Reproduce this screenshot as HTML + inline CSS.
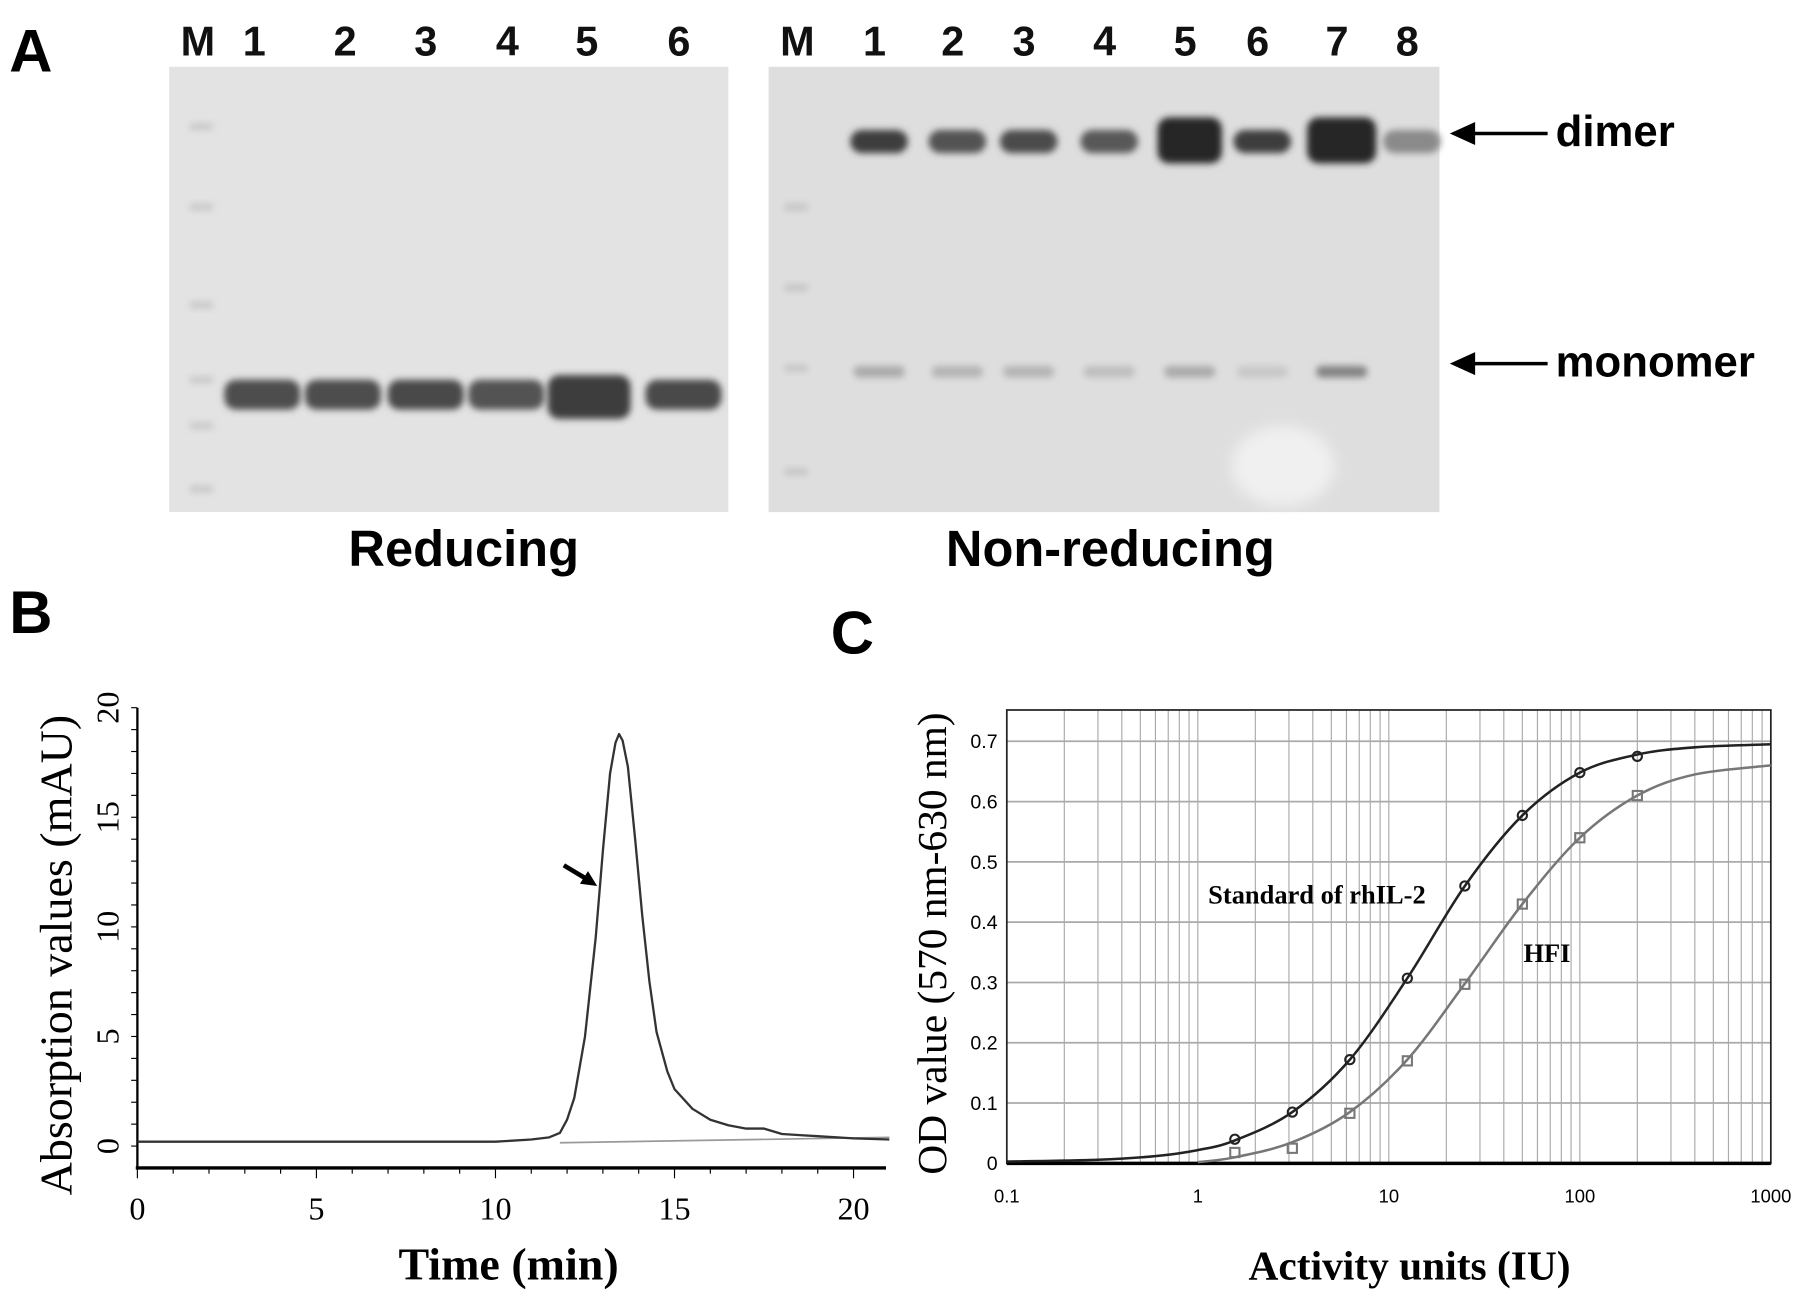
<!DOCTYPE html>
<html><head><meta charset="utf-8">
<style>
html,body{margin:0;padding:0;background:#fff;}
svg{display:block;}
.lab{font-family:"Liberation Sans",sans-serif;font-weight:bold;}
.ser{font-family:"Liberation Serif",serif;}
</style></head>
<body>
<svg id="fig" width="1795" height="1298" viewBox="0 0 1560 1128" xmlns="http://www.w3.org/2000/svg">
<defs>
<filter id="blur" x="-30%" y="-80%" width="160%" height="260%"><feGaussianBlur stdDeviation="3"/></filter>
<filter id="blur2" x="-30%" y="-80%" width="160%" height="260%"><feGaussianBlur stdDeviation="6"/></filter>
</defs>

<!-- Panel A -->
<text x="8" y="62" class="lab" font-size="52">A</text>
<g id="gelA">
<rect x="147" y="58" width="486" height="387" fill="#e3e3e3"/>
</g>
<g id="gelB">
<rect x="668" y="58" width="583" height="387" fill="#dedede"/>
<ellipse cx="1115" cy="405" rx="45" ry="35" fill="#f0f0f0" filter="url(#blur2)"/>
</g>
<g class="lab" font-size="36" text-anchor="middle" fill="#111" font-family="Liberation Sans Narrow, Liberation Sans, sans-serif" id="laneLabels"></g>

<g>
<line x1="1345" y1="116" x2="1272" y2="116" stroke="#000" stroke-width="3"/>
<polygon points="1260,116 1282,106 1282,126" fill="#000"/>
<text x="1352" y="127" class="lab" font-size="38" font-weight="normal">dimer</text>
</g>
<g>
<line x1="1345" y1="316" x2="1272" y2="316" stroke="#000" stroke-width="3"/>
<polygon points="1260,316 1282,306 1282,326" fill="#000"/>
<text x="1352" y="327" class="lab" font-size="38" font-weight="normal">monomer</text>
</g>
<text x="403" y="492" text-anchor="middle" class="lab" font-size="44" font-weight="normal">Reducing</text>
<text x="965" y="492" text-anchor="middle" class="lab" font-size="44" font-weight="normal">Non-reducing</text>

<!-- Panel B -->
<text x="8" y="550" class="lab" font-size="52">B</text>
<g id="chartB"></g>
<text transform="translate(62,830) rotate(-90)" text-anchor="middle" class="ser" font-size="40">Absorption values (mAU)</text>
<text x="442" y="1112" text-anchor="middle" class="ser" font-size="40" font-weight="bold">Time (min)</text>

<!-- Panel C -->
<text x="722" y="568" class="lab" font-size="52">C</text>
<g id="chartC"></g>
<text transform="translate(822,820) rotate(-90)" text-anchor="middle" class="ser" font-size="36">OD value (570 nm-630 nm)</text>
<text x="1225" y="1112" text-anchor="middle" class="ser" font-size="36" font-weight="bold">Activity units (IU)</text>
<text x="1050" y="785" class="ser" font-size="23" font-weight="bold">Standard of rhIL-2</text>
<text x="1324" y="836" class="ser" font-size="23" font-weight="bold">HFI</text>
</svg>

<script>
const NS="http://www.w3.org/2000/svg";
function mk(tag,attrs,parent){const e=document.createElementNS(NS,tag);for(const k in attrs)e.setAttribute(k,attrs[k]);parent.appendChild(e);return e;}

// ---- Gel data ----
const redLanes=["M","1","2","3","4","5","6"];
const redLaneX=[172,221,300,370,441,510,590];
const nonLanes=["M","1","2","3","4","5","6","7","8"];
const nonLaneX=[693,760,828,890,960,1030,1093,1162,1223];
const redIntensity=[0.8,0.8,0.85,0.75,1.0,0.85];
const dimerIntensity=[0.85,0.7,0.75,0.65,1.0,0.85,1.0,0.3];
const monomerIntensity=[0.25,0.2,0.2,0.15,0.25,0.1,0.45,0];

const ll=document.getElementById('laneLabels');
redLanes.forEach((t,i)=>{const e=mk('text',{x:redLaneX[i],y:48},ll);e.textContent=t;

});
nonLanes.forEach((t,i)=>{const e=mk('text',{x:nonLaneX[i],y:48},ll);e.textContent=t;

});

const gA=document.getElementById('gelA');
[110,180,265,330,370,425].forEach(y=>{mk('rect',{x:165,y:y-3,width:20,height:6,fill:'#c8c8c8',filter:'url(#blur)'},gA);});
redIntensity.forEach((v,i)=>{const cx=[228,298,370,440,512,594][i];const w=i==4?72:66;const h=i==4?38:26;
const g=Math.round(60+(1-v)*90);
const r=mk('rect',{x:cx-w/2,y:i==4?326:330,width:w,height:h,rx:10,fill:`rgb(${g},${g},${g})`,filter:'url(#blur)'},gA);

});

const gB=document.getElementById('gelB');
[180,250,320,410].forEach(y=>{mk('rect',{x:682,y:y-3,width:20,height:6,fill:'#c4c4c4',filter:'url(#blur)'},gB);});
dimerIntensity.forEach((v,i)=>{const cx=nonLaneX[i+1]+4;const big=(i==4||i==6);const w=big?(i==6?60:56):50;const h=big?40:20;
const g=Math.round(40+(1-v)*140);
const r=mk('rect',{x:cx-w/2,y:big?102:113,width:w,height:h,rx:10,fill:`rgb(${g},${g},${g})`,filter:'url(#blur)'},gB);


if(monomerIntensity[i]>0){const m=Math.round(220-monomerIntensity[i]*200);
const r2=mk('rect',{x:cx-22,y:318,width:44,height:10,rx:4,fill:`rgb(${m},${m},${m})`,filter:'url(#blur)'},gB);

}});

// ---- Chart B data ----
const bTime=[0,2,4,6,8,10,11,11.5,11.8,12,12.2,12.5,12.8,13,13.2,13.35,13.45,13.55,13.7,13.9,14.1,14.3,14.5,14.8,15,15.5,16,16.5,17,17.5,18,18.5,19,20,21];
const bAbs=[0.2,0.2,0.2,0.2,0.2,0.2,0.3,0.4,0.6,1.2,2.2,5,9.5,13.5,17,18.4,18.8,18.5,17.3,14,10.5,7.5,5.2,3.4,2.6,1.7,1.2,0.95,0.8,0.8,0.55,0.5,0.45,0.35,0.3];
const bXTicks=[0,5,10,15,20];
const bYTicks=[0,5,10,15,20];
const bx=t=>119.4+t*31.12, by=v=>996-v*19.05;
const cB=document.getElementById('chartB');
let ax=mk('line',{x1:119.4,y1:615,x2:119.4,y2:1016,stroke:'#000','stroke-width':2},cB);

ax=mk('line',{x1:118,y1:1015,x2:770,y2:1015,stroke:'#000','stroke-width':3},cB);

for(let v=0;v<=20;v+=1){mk('line',{x1:114,y1:by(v),x2:119,y2:by(v),stroke:'#000','stroke-width':1},cB);}
for(let t=0;t<=20;t+=1){mk('line',{x1:bx(t),y1:1016,x2:bx(t),y2:(t%5==0)?1024:1020,stroke:'#000','stroke-width':1},cB);}
bXTicks.forEach(t=>{const e=mk('text',{x:bx(t),y:1060,'text-anchor':'middle','font-size':28,'font-family':'Liberation Serif, serif'},cB);e.textContent=t;
});
bYTicks.forEach(v=>{const e=mk('text',{transform:`translate(103,${by(v)}) rotate(-90)`,'text-anchor':'middle','font-size':28,'font-family':'Liberation Serif, serif'},cB);e.textContent=v;
});
let bl=mk('line',{x1:bx(11.8),y1:by(0.15),x2:bx(21),y2:by(0.4),stroke:'#999','stroke-width':1.5},cB);

let pd=bTime.map((t,i)=>(i?'L':'M')+bx(t).toFixed(1)+','+by(bAbs[i]).toFixed(1)).join(' ');
let pl=mk('path',{d:pd,fill:'none',stroke:'#333','stroke-width':2,'stroke-linejoin':'round'},cB);

let ar=mk('g',{},cB);
mk('line',{x1:490,y1:752,x2:510,y2:764,stroke:'#000','stroke-width':4},ar);
mk('polygon',{points:'519,770 504,768 511,757',fill:'#000'},ar);

// ---- Chart C data ----
const stdDose=[1.5625,3.125,6.25,12.5,25,50,100,200];
const stdOD=[0.04,0.085,0.172,0.307,0.46,0.577,0.648,0.675];
const hfiDose=[1.5625,3.125,6.25,12.5,25,50,100,200];
const hfiOD=[0.018,0.025,0.083,0.17,0.297,0.43,0.54,0.61];
const stdFitDose=[0.1,0.3,0.6,1,1.5625,3.125,6.25,12.5,25,50,100,200,400,1000];
const stdFitOD=[0.003,0.006,0.012,0.022,0.038,0.085,0.172,0.307,0.46,0.577,0.648,0.678,0.69,0.695];
const hfiFitDose=[1,1.5625,3.125,6.25,12.5,25,50,100,200,400,1000];
const hfiFitOD=[0.002,0.01,0.035,0.085,0.172,0.298,0.43,0.54,0.61,0.645,0.66];
const cXTicks=[0.1,1,10,100,1000];
const cYTicks=[0,0.1,0.2,0.3,0.4,0.5,0.6,0.7];
const L=875,R=1539,T=617,B=1011;
const cx=d=>L+(Math.log10(d)+1)*166, cy=v=>B-v*524;
const cC=document.getElementById('chartC');
for(let e=-1;e<3;e++)for(let k=1;k<=9;k++){const d=k*Math.pow(10,e);
const g=mk('line',{x1:cx(d),y1:T,x2:cx(d),y2:B,stroke:'#aaa','stroke-width':1},cC);
}
cYTicks.forEach(v=>{const g=mk('line',{x1:L,y1:cy(v),x2:R,y2:cy(v),stroke:'#aaa','stroke-width':1.5},cC);

const t=mk('text',{x:L-8,y:cy(v)+6,'text-anchor':'end','font-size':17,'font-family':'Liberation Sans, sans-serif'},cC);t.textContent=v===0?'0':v.toFixed(1);
});
cXTicks.forEach(d=>{const t=mk('text',{x:cx(d),y:1045,'text-anchor':'middle','font-size':16,'font-family':'Liberation Sans, sans-serif'},cC);t.textContent=d;
});
let fr=mk('rect',{x:L,y:T,width:R-L,height:B-T,fill:'none',stroke:'#222','stroke-width':1.5},cC);

let xa=mk('line',{x1:L,y1:B,x2:R,y2:B,stroke:'#000','stroke-width':3},cC);

function smooth(xs,ys){const p=xs.map((d,i)=>[cx(d),cy(ys[i])]);let s=`M${p[0][0]},${p[0][1]}`;
for(let i=0;i<p.length-1;i++){const p0=p[i-1]||p[i],p1=p[i],p2=p[i+1],p3=p[i+2]||p2;
s+=` C${p1[0]+(p2[0]-p0[0])/6},${p1[1]+(p2[1]-p0[1])/6} ${p2[0]-(p3[0]-p1[0])/6},${p2[1]-(p3[1]-p1[1])/6} ${p2[0]},${p2[1]}`;}return s;}
let c1=mk('path',{d:smooth(stdFitDose,stdFitOD),fill:'none',stroke:'#222','stroke-width':2.2},cC);

let c2=mk('path',{d:smooth(hfiFitDose,hfiFitOD),fill:'none',stroke:'#777','stroke-width':2.2},cC);

stdDose.forEach((d,i)=>{const m=mk('circle',{cx:cx(d),cy:cy(stdOD[i]),r:4,fill:'none',stroke:'#222','stroke-width':1.8},cC);
});
hfiDose.forEach((d,i)=>{const m=mk('rect',{x:cx(d)-4,y:cy(hfiOD[i])-4,width:8,height:8,fill:'none',stroke:'#777','stroke-width':1.8},cC);
});
</script>
</body></html>
